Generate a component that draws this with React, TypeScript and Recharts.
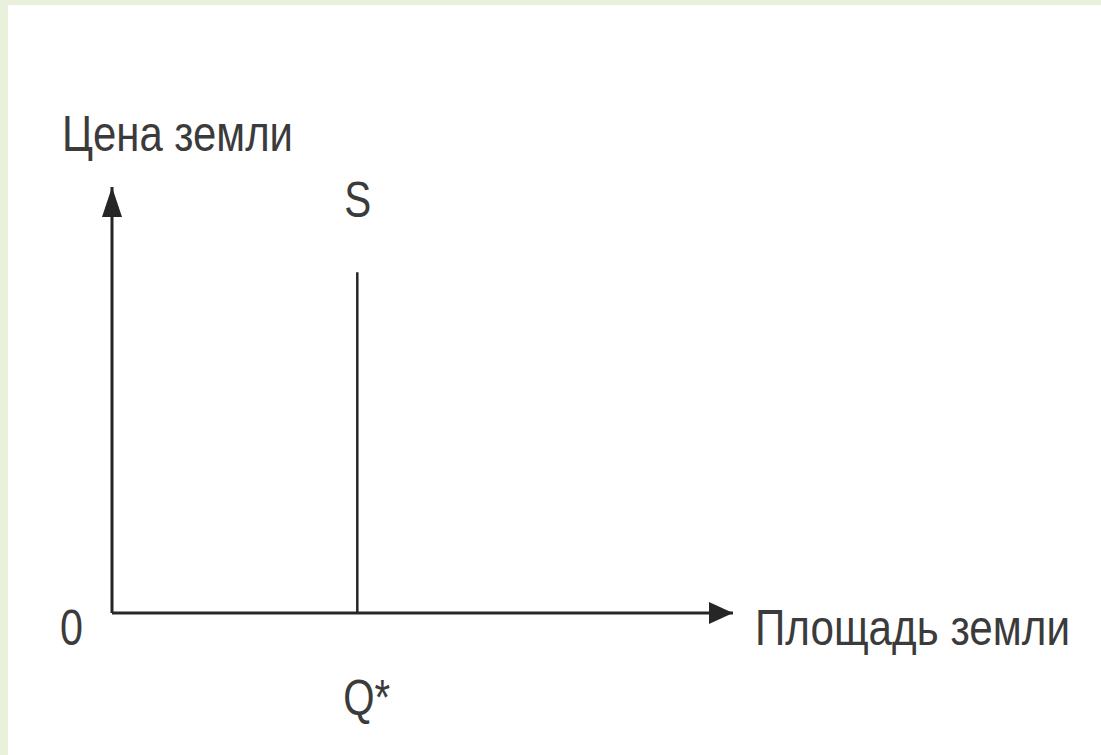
import React from 'react';
import { LineChart, Line, XAxis, YAxis, ReferenceDot, ReferenceLine } from 'recharts';

// supply of land: perfectly inelastic at Q*
const supplyQ = [39.5, 39.5];
const supplyP = [0, 80];

const priceLabel = 'Цена земли';
const areaLabel = 'Площадь земли';
const supplyLabel = 'S';
const quantityLabel = 'Q*';
const originLabel = '0';

const axisMax = 100;

const data = supplyQ.map((q, i) => ({ q, p: supplyP[i] }));

const INK = '#262626';
const TEXT = '#3b3b3b';
const FONT = '"Liberation Sans", Arial, sans-serif';
const FS = 42;

type DotProps = { cx?: number; cy?: number };

// the original uses a narrow face: smaller glyphs stretched vertically
const txt = (x: number, y: number, s: string, w: number) => (
  <text
    transform={`translate(${x},${y}) scale(1,1.19)`}
    fontFamily={FONT}
    fontSize={FS}
    fill={TEXT}
    textLength={w}
    lengthAdjust="spacingAndGlyphs"
  >
    {s}
  </text>
);

const UpArrow = ({ cx = 0, cy = 0 }: DotProps) => (
  <g>
    <polygon points={`${cx},${cy} ${cx - 10},${cy + 30} ${cx + 10},${cy + 30}`} fill={INK} />
    {txt(cx - 50, cy - 36, priceLabel, 231)}
  </g>
);

const RightArrow = ({ cx = 0, cy = 0 }: DotProps) => (
  <g>
    <polygon points={`${cx},${cy} ${cx - 24},${cy - 11} ${cx - 24},${cy + 11}`} fill={INK} />
    {txt(cx + 22, cy + 32, areaLabel, 315)}
  </g>
);

const Origin = ({ cx = 0, cy = 0 }: DotProps) => txt(cx - 52, cy + 32, originLabel, 23);

const SupplyTop = ({ cx = 0, cy = 0 }: DotProps) => txt(cx - 13, cy - 55, supplyLabel, 27);

const SupplyBase = ({ cx = 0, cy = 0 }: DotProps) => txt(cx - 14, cy + 102, quantityLabel, 47);

export default function App() {
  return (
    <div style={{ position: 'fixed', left: 0, top: 0, width: 1101, height: 755, background: '#e9f1dd' }}>
      <div style={{ position: 'absolute', left: 8, top: 5, width: 1093, height: 750, background: '#ffffff' }}>
        <LineChart
          width={1093}
          height={750}
          data={data}
          margin={{ top: 182, right: 368, bottom: 142, left: 104 }}
        >
          <XAxis dataKey="q" type="number" domain={[0, axisMax]} allowDataOverflow hide />
          <YAxis type="number" domain={[0, axisMax]} allowDataOverflow hide />
          <ReferenceLine y={0} stroke={INK} strokeWidth={3} />
          <ReferenceLine x={0} stroke={INK} strokeWidth={3} />
          <Line
            dataKey="p"
            stroke={INK}
            strokeWidth={2.5}
            dot={false}
            isAnimationActive={false}
          />
          <ReferenceDot x={0} y={axisMax} r={0} shape={UpArrow} />
          <ReferenceDot x={axisMax} y={0} r={0} shape={RightArrow} />
          <ReferenceDot x={0} y={0} r={0} shape={Origin} />
          <ReferenceDot x={supplyQ[1]} y={supplyP[1]} r={0} shape={SupplyTop} />
          <ReferenceDot x={supplyQ[0]} y={supplyP[0]} r={0} shape={SupplyBase} />
        </LineChart>
      </div>
    </div>
  );
}
